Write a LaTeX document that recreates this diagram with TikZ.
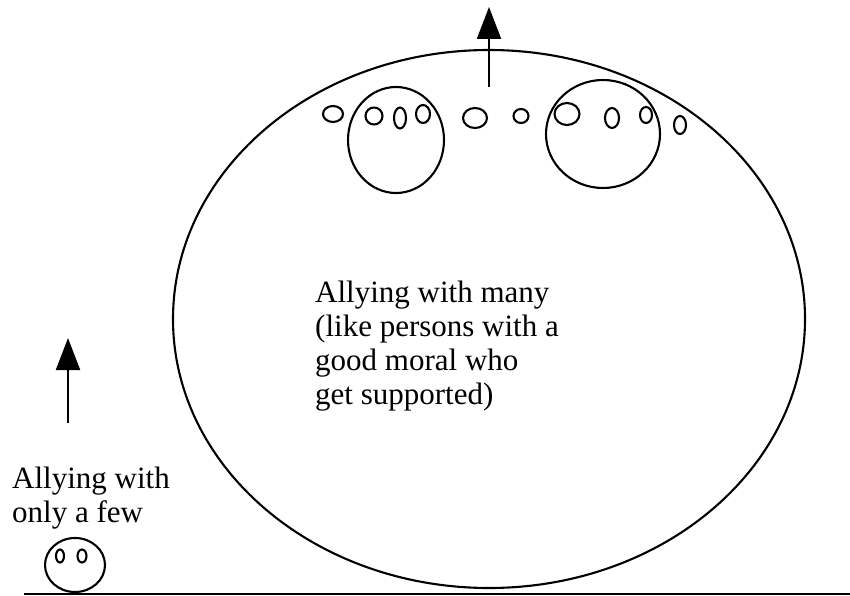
\documentclass[tikz,border=0pt]{standalone}
\usepackage{fontspec}
\setmainfont{Liberation Serif}
\usetikzlibrary{shapes.geometric,arrows.meta}
\tikzset{
  oval/.style={draw, ellipse, line width=2.1pt, inner sep=0pt},
  upar/.style={line width=2.1pt, -{Triangle[width=24pt,length=32pt]}},
  lbl/.style={inner sep=0pt, align=left, font=\fontsize{31}{34}\selectfont},
}
\newcommand{\ov}[5]{\node[oval, minimum width=#4pt, minimum height=#5pt] (#1) at (#2,#3) {};}
\begin{document}
\begin{tikzpicture}[x=1pt,y=-1pt]
\useasboundingbox (0,0) rectangle (850,596);
% big ellipse
\ov{big}{489}{319}{632}{538}
% inner big circles
\ov{cl}{396}{140}{96}{106}
\ov{cr}{603}{134}{114}{108}
% small ovals
\ov{o1}{333}{114}{20}{16}
\ov{o2}{374}{116}{17}{17}
\ov{o3}{400}{118}{12}{21}
\ov{o4}{423}{114}{14}{18}
\ov{o5}{475}{118}{24}{20}
\ov{o6}{521}{116}{15}{14}
\ov{o7}{567}{114}{25}{22}
\ov{o8}{612}{118}{14}{20}
\ov{o9}{646}{115}{12}{16}
\ov{o10}{680}{125}{12}{18}
% top arrow
\coordinate (ts) at (489,87);
\coordinate (te) at (489,7);
\draw[upar] (ts) -- (te);
% left arrow
\coordinate (ls) at (68,423);
\coordinate (le) at (68,338);
\draw[upar] (ls) -- (le);
% small face
\ov{face}{75}{565}{60}{54}
\ov{e1}{60}{556}{8}{13}
\ov{e2}{82}{556}{9}{13}
% ground line
\coordinate (g1) at (24,594);
\coordinate (g2) at (850,594);
\draw[line width=2.1pt] (g1) -- (g2);
% texts (base anchor = baseline of the last line)
\node[lbl, anchor=base west] (tmany) at (315,404) {Allying with many\\(like persons with a\\good moral who\\get supported)};
\node[lbl, anchor=base west] (tfew) at (12,522) {Allying with\\only a few};
\end{tikzpicture}
\end{document}
